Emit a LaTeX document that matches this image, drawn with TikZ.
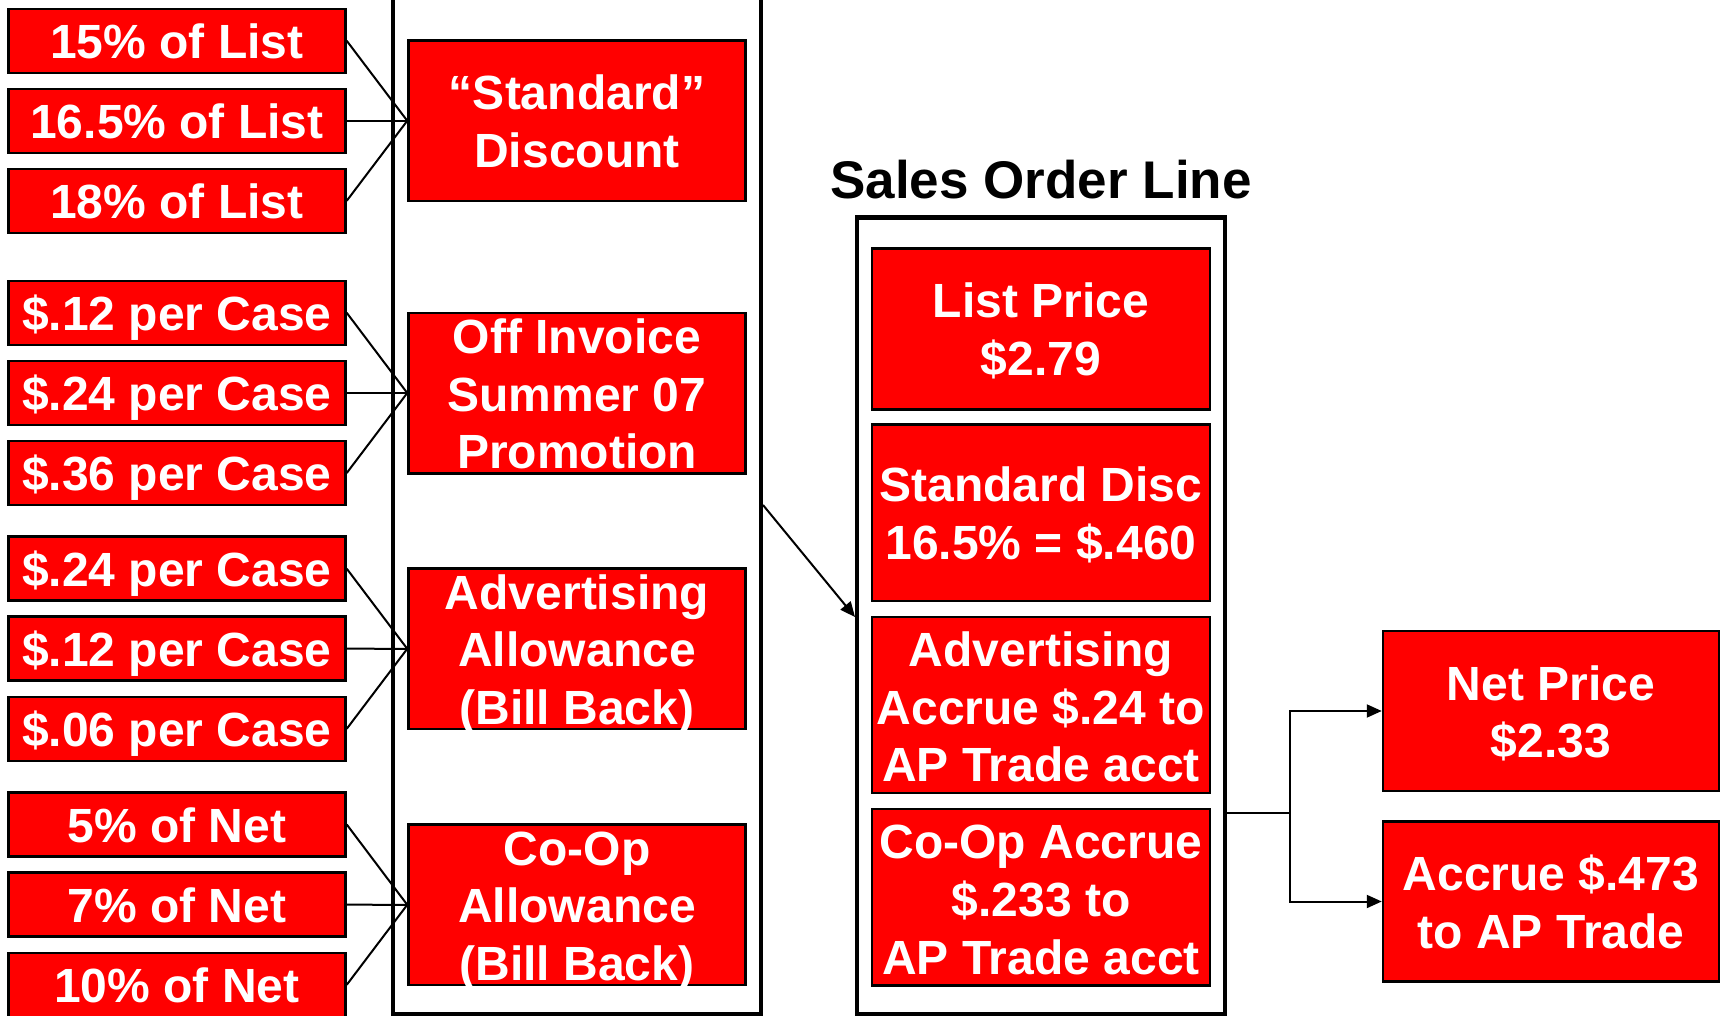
\documentclass[tikz,border=0pt]{standalone}
\usepackage{fontspec}
\setmainfont{Liberation Sans}
\usetikzlibrary{arrows.meta,calc}
\newcommand\bigf{\fontsize{48}{57.6}\selectfont\bfseries}
\newcommand\titlef{\fontsize{53}{63}\selectfont\bfseries}
\newcommand\mlines[1]{\begin{tabular}[t]{@{}c@{}}#1\end{tabular}}
\begin{document}
\begin{tikzpicture}[x=1pt,y=-1pt,
  box/.style={draw=black,line width=2.5pt,fill=red,text=white,inner sep=0pt,font=\bigf,anchor=center},
  one/.style={text height=35pt,text depth=0pt},
  two/.style={text height=0pt,text depth=22pt},
  three/.style={text height=0pt,text depth=#1},
  three/.default=79pt,
  lbox/.style={box,one,minimum width=337pt,minimum height=64pt},
  mbox/.style={box,minimum width=337pt,minimum height=160.5pt},
  sbox/.style={box,minimum width=338pt},
  rbox/.style={box,two,minimum width=336pt,minimum height=160pt},
  link/.style={line width=2pt,draw=black},
  arr/.style={link,-{Triangle[length=15pt,width=13pt]}},
  frame/.style={line width=4.5pt,draw=black}]
\useasboundingbox (0,0) rectangle (1721,1016);

% middle frame (open at top)
\draw[frame] (393,-10) -- (393,1014) -- (761,1014) -- (761,-10);

% left option boxes
\node[lbox] (l1)  at (177,40.8)  {15\% of List};
\node[lbox] (l2)  at (177,120.8) {16.5\% of List};
\node[lbox] (l3)  at (177,200.8) {18\% of List};
\node[lbox] (l4)  at (177,312.8) {\$.12 per Case};
\node[lbox] (l5)  at (177,393)   {\$.24 per Case};
\node[lbox] (l6)  at (177,473)   {\$.36 per Case};
\node[lbox] (l7)  at (177,568.7) {\$.24 per Case};
\node[lbox] (l8)  at (177,648.7) {\$.12 per Case};
\node[lbox] (l9)  at (177,728.8) {\$.06 per Case};
\node[lbox] (l10) at (177,824.5) {5\% of Net};
\node[lbox] (l11) at (177,904.7) {7\% of Net};
\node[lbox] (l12) at (177,984.8) {10\% of Net};

% middle boxes
\node[mbox,two]   (m1) at (577,120.8) {\mlines{“Standard”\\Discount}};
\node[mbox,three] (m2) at (577,393)   {\mlines{Off Invoice\\Summer 07\\Promotion}};
\node[mbox,three] (m3) at (577,648.8) {\mlines{Advertising\\Allowance\\(Bill Back)}};
\node[mbox,three] (m4) at (577,904.8) {\mlines{Co-Op\\Allowance\\(Bill Back)}};

\foreach \a/\m in {l1/m1,l2/m1,l3/m1,l4/m2,l5/m2,l6/m2,l7/m3,l8/m3,l9/m3,l10/m4,l11/m4,l12/m4}
  \draw[link] (\a.east) -- (\m.west);

% sales order line
\node[font=\titlef, anchor=base] (title) at (1041,198.5) {Sales Order Line};
\node[frame,draw,minimum width=368pt,minimum height=796.5pt,inner sep=0pt] (sol) at (1041,615.75) {};
\node[sbox,two,minimum height=161pt]   (s1) at (1041,328.8) {\mlines{List Price\\\$2.79}};
\node[sbox,two,minimum height=176.7pt] (s2) at (1041,512.7) {\mlines{Standard Disc\\16.5\% = \$.460}};
\node[sbox,three=77pt,minimum height=176pt]   (s3) at (1041,705)   {\mlines{Advertising\\Accrue \$.24 to\\AP Trade acct}};
\node[sbox,three=77pt,minimum height=176.6pt] (s4) at (1041,897.3) {\mlines{Co-Op Accrue\\\$.233 to\\AP Trade acct}};

\coordinate (a0) at (763,505);
\coordinate (a1) at (855,617);
\draw[arr] (a0) -- (a1);

% results
\node[rbox] (r1) at (1551,711)   {\mlines{Net Price\\\$2.33}};
\node[rbox] (r2) at (1551,901.5) {\mlines{Accrue \$.473\\to AP Trade}};

\coordinate (j0) at (1225,813);
\coordinate (j1) at (1290,813);
\draw[link] (j0) -- (j1);
\draw[arr] (j1) |- (r1.west);
\draw[arr] (j1) |- (r2.west);
\end{tikzpicture}
\end{document}
